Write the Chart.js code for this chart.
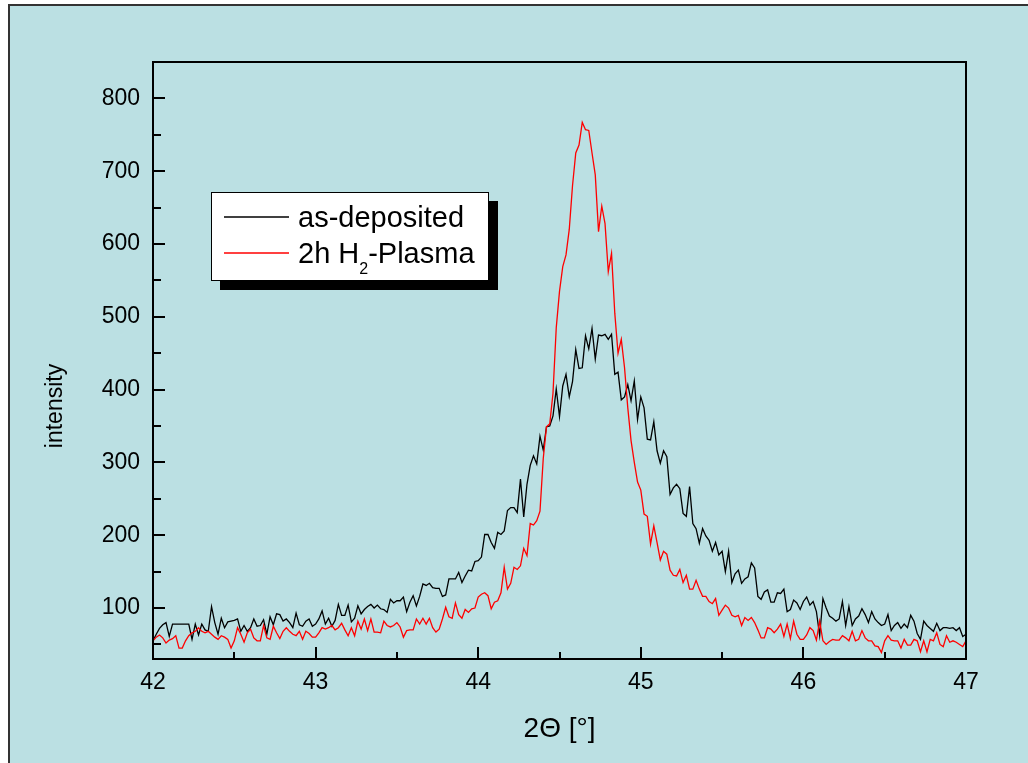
<!DOCTYPE html>
<html>
<head>
<meta charset="utf-8">
<script src="https://cdn.jsdelivr.net/npm/chart.js@4.4.1/dist/chart.umd.min.js"></script>
<style>
html,body{margin:0;padding:0;background:#ffffff;overflow:hidden}
canvas{display:block}
</style>
</head>
<body>
<canvas id="c" width="1028" height="763"></canvas>
<script>
// ---------- data ----------
const angleStart = 42.0;
const angleStep = 0.02;
const xTickLabels = [42, 43, 44, 45, 46, 47];
const xMinorTicks = [42.5, 43.5, 44.5, 45.5, 46.5];
const yTickLabels = [100, 200, 300, 400, 500, 600, 700, 800];
const yMinorTicks = [50, 150, 250, 350, 450, 550, 650, 750];
const seriesNames = ['as-deposited', '2h H\u2082-Plasma'];
const xTitle = '2\u0398 [\u00B0]';
const yTitle = 'intensity';

// as-deposited (black): 42.00 .. 43.00
const asDep42 = [55,64,72,77,80,61,78,78,78,78,78,78,57,78,63,78,70,68,102,80,64,86,73,81,82,83,85,68,76,68,73,85,75,76,84,64,88,77,92,91,82,85,80,73,93,77,75,82,85,75,78];
// 43.02 .. 44.00
const asDep43 = [85,96,78,86,75,83,105,90,90,104,81,86,103,92,98,102,105,100,104,99,98,94,112,107,110,110,115,95,108,117,103,116,133,131,134,128,127,127,116,118,140,140,140,149,135,144,152,151,164,165];
// 44.02 .. 45.00
const asDep44 = [170,201,201,190,182,204,201,206,234,238,238,231,277,225,270,296,309,298,336,317,349,350,364,401,363,405,421,390,411,455,429,430,474,456,484,442,475,474,476,469,476,421,424,386,390,407,385,412,359,390];
// 45.02 .. 46.00
const asDep45 = [375,332,331,356,316,299,316,308,256,265,270,264,230,226,267,216,209,189,209,199,193,178,190,173,178,150,178,135,147,152,134,140,143,162,155,116,112,122,125,108,108,121,120,126,95,98,111,107,98,109];
// 46.02 .. 47.00
const asDep46 = [115,104,109,95,62,113,100,89,86,82,85,109,76,102,76,85,89,99,91,80,95,85,80,76,78,91,69,76,80,72,78,73,90,82,65,57,82,76,72,68,79,69,73,73,72,73,69,73,61,64];

// 2h H2-Plasma (red): 42.00 .. 43.00
const plasma42 = [55,60,63,59,52,56,58,62,45,45,55,62,66,68,73,68,66,68,64,60,57,62,60,57,45,55,73,64,53,66,71,59,55,55,76,59,57,75,66,58,68,73,68,64,62,68,57,68,65,60,60];
// 43.02 .. 44.00
const plasma43 = [66,73,71,73,76,70,73,79,70,62,73,62,82,71,85,69,85,67,67,66,82,76,74,76,80,74,60,69,70,70,85,78,86,78,86,73,67,71,85,101,88,86,107,91,86,98,94,99,100,115];
// 44.02 .. 45.00
const plasma44 = [119,121,117,99,108,110,121,156,126,134,156,153,158,182,172,216,214,220,233,305,349,353,395,485,535,569,585,620,680,725,736,767,757,756,725,695,617,652,628,562,587,505,450,469,430,375,330,300,273,262];
// 45.02 .. 46.00
const plasma45 = [229,226,188,213,190,166,178,174,152,145,144,153,135,145,126,126,138,126,116,116,109,106,113,90,97,104,100,90,88,90,76,87,83,87,80,70,59,59,73,71,66,71,78,61,78,58,82,64,57,57];
// 46.02 .. 47.00
const plasma46 = [63,73,69,56,82,55,50,54,57,56,56,62,59,55,68,55,57,69,59,55,55,48,47,39,55,62,56,55,55,45,57,49,49,57,55,40,55,40,57,55,66,50,47,62,53,55,53,50,47,55];

const asDeposited = [...asDep42, ...asDep43, ...asDep44, ...asDep45, ...asDep46];
const plasma = [...plasma42, ...plasma43, ...plasma44, ...plasma45, ...plasma46];

function toPoints(values) {
  return values.map((v, i) => ({ x: +(angleStart + i * angleStep).toFixed(2), y: v }));
}

// ---------- styling ----------
const FONT = "'Liberation Sans', Arial, sans-serif";
const BG = '#BBE0E3';

const decorPlugin = {
  id: 'decor',
  beforeDraw(chart) {
    const ctx = chart.ctx, w = chart.width, h = chart.height;
    ctx.save();
    ctx.fillStyle = '#ffffff';
    ctx.fillRect(0, 0, w, h);
    ctx.fillStyle = BG;
    ctx.fillRect(9, 5, w - 9, h - 5);
    ctx.strokeStyle = '#333333';
    ctx.lineWidth = 2;
    ctx.beginPath();
    ctx.moveTo(9, h);
    ctx.lineTo(9, 5);
    ctx.lineTo(w, 5);
    ctx.stroke();
    ctx.restore();
  },
  afterDatasetsDraw(chart) {
    const ctx = chart.ctx, a = chart.chartArea;
    const xs = chart.scales.x, ys = chart.scales.y;
    ctx.save();
    // plot frame
    ctx.strokeStyle = '#000';
    ctx.lineWidth = 2;
    ctx.strokeRect(a.left, a.top, a.right - a.left, a.bottom - a.top);
    // inward ticks
    ctx.beginPath();
    xTickLabels.forEach(v => { const p = Math.round(xs.getPixelForValue(v)); ctx.moveTo(p, a.bottom); ctx.lineTo(p, a.bottom - 12); });
    xMinorTicks.forEach(v => { const p = Math.round(xs.getPixelForValue(v)); ctx.moveTo(p, a.bottom); ctx.lineTo(p, a.bottom - 7); });
    yTickLabels.forEach(v => { const p = Math.round(ys.getPixelForValue(v)); ctx.moveTo(a.left, p); ctx.lineTo(a.left + 12, p); });
    yMinorTicks.forEach(v => { const p = Math.round(ys.getPixelForValue(v)); ctx.moveTo(a.left, p); ctx.lineTo(a.left + 8, p); });
    ctx.stroke();

    // y axis title
    ctx.fillStyle = '#000';
    ctx.font = '23px ' + FONT;
    ctx.textAlign = 'center';
    ctx.textBaseline = 'middle';
    ctx.save();
    ctx.translate(56, 406);
    ctx.rotate(-Math.PI / 2);
    ctx.fillText(yTitle, 0, 0);
    ctx.restore();

    // legend
    const lx = 211, ly = 192, lw = 278, lh = 89;
    ctx.fillStyle = '#000';
    ctx.fillRect(lx + 9, ly + 9, lw, lh);
    ctx.fillStyle = '#fff';
    ctx.fillRect(lx, ly, lw, lh);
    ctx.strokeStyle = '#000';
    ctx.lineWidth = 1;
    ctx.strokeRect(lx + 0.5, ly + 0.5, lw - 1, lh - 1);
    const colors = chart.data.datasets.map(d => d.borderColor);
    const rows = [{ lineY: 217, base: 227 }, { lineY: 253, base: 263 }];
    ctx.textAlign = 'left';
    ctx.textBaseline = 'alphabetic';
    seriesNames.forEach((name, i) => {
      ctx.strokeStyle = colors[i];
      ctx.lineWidth = 1.3;
      ctx.beginPath();
      ctx.moveTo(224, rows[i].lineY);
      ctx.lineTo(289, rows[i].lineY);
      ctx.stroke();
      ctx.fillStyle = '#000';
      let x = 298;
      const parts = name.split('\u2082');
      parts.forEach((part, j) => {
        ctx.font = '29px ' + FONT;
        ctx.fillText(part, x, rows[i].base);
        x += ctx.measureText(part).width;
        if (j < parts.length - 1) {
          ctx.font = '16px ' + FONT;
          ctx.fillText('2', x, rows[i].base + 11);
          x += ctx.measureText('2').width;
        }
      });
    });
    ctx.restore();
  }
};

new Chart(document.getElementById('c'), {
  type: 'line',
  data: {
    datasets: [
      { label: seriesNames[0], data: toPoints(asDeposited), borderColor: '#000000', borderWidth: 1.3, pointRadius: 0, tension: 0, fill: false, order: 2 },
      { label: seriesNames[1], data: toPoints(plasma), borderColor: '#FF0000', borderWidth: 1.3, pointRadius: 0, tension: 0, fill: false, order: 1 }
    ]
  },
  options: {
    responsive: false,
    animation: false,
    events: [],
    layout: { padding: { left: 0, top: 62, right: 62, bottom: 0 }, autoPadding: false },
    plugins: { legend: { display: false }, tooltip: { enabled: false } },
    scales: {
      x: {
        type: 'linear', min: 42, max: 47,
        afterBuildTicks: s => { s.ticks = xTickLabels.map(v => ({ value: v })); },
        afterFit: s => { s.height = 104; },
        grid: { display: false, drawTicks: false },
        border: { display: false },
        ticks: { color: '#000', padding: 10, maxRotation: 0, font: { family: FONT, size: 23 } },
        title: { display: true, text: xTitle, color: '#000', padding: { top: 0, bottom: 17 }, font: { family: FONT, size: 28 } }
      },
      y: {
        type: 'linear', min: 30, max: 850,
        afterBuildTicks: s => { s.ticks = yTickLabels.map(v => ({ value: v })); },
        afterFit: s => { s.width = 153; },
        grid: { display: false, drawTicks: false },
        border: { display: false },
        ticks: { color: '#000', padding: 13, font: { family: FONT, size: 23 } }
      }
    }
  },
  plugins: [decorPlugin]
});
</script>
</body>
</html>
